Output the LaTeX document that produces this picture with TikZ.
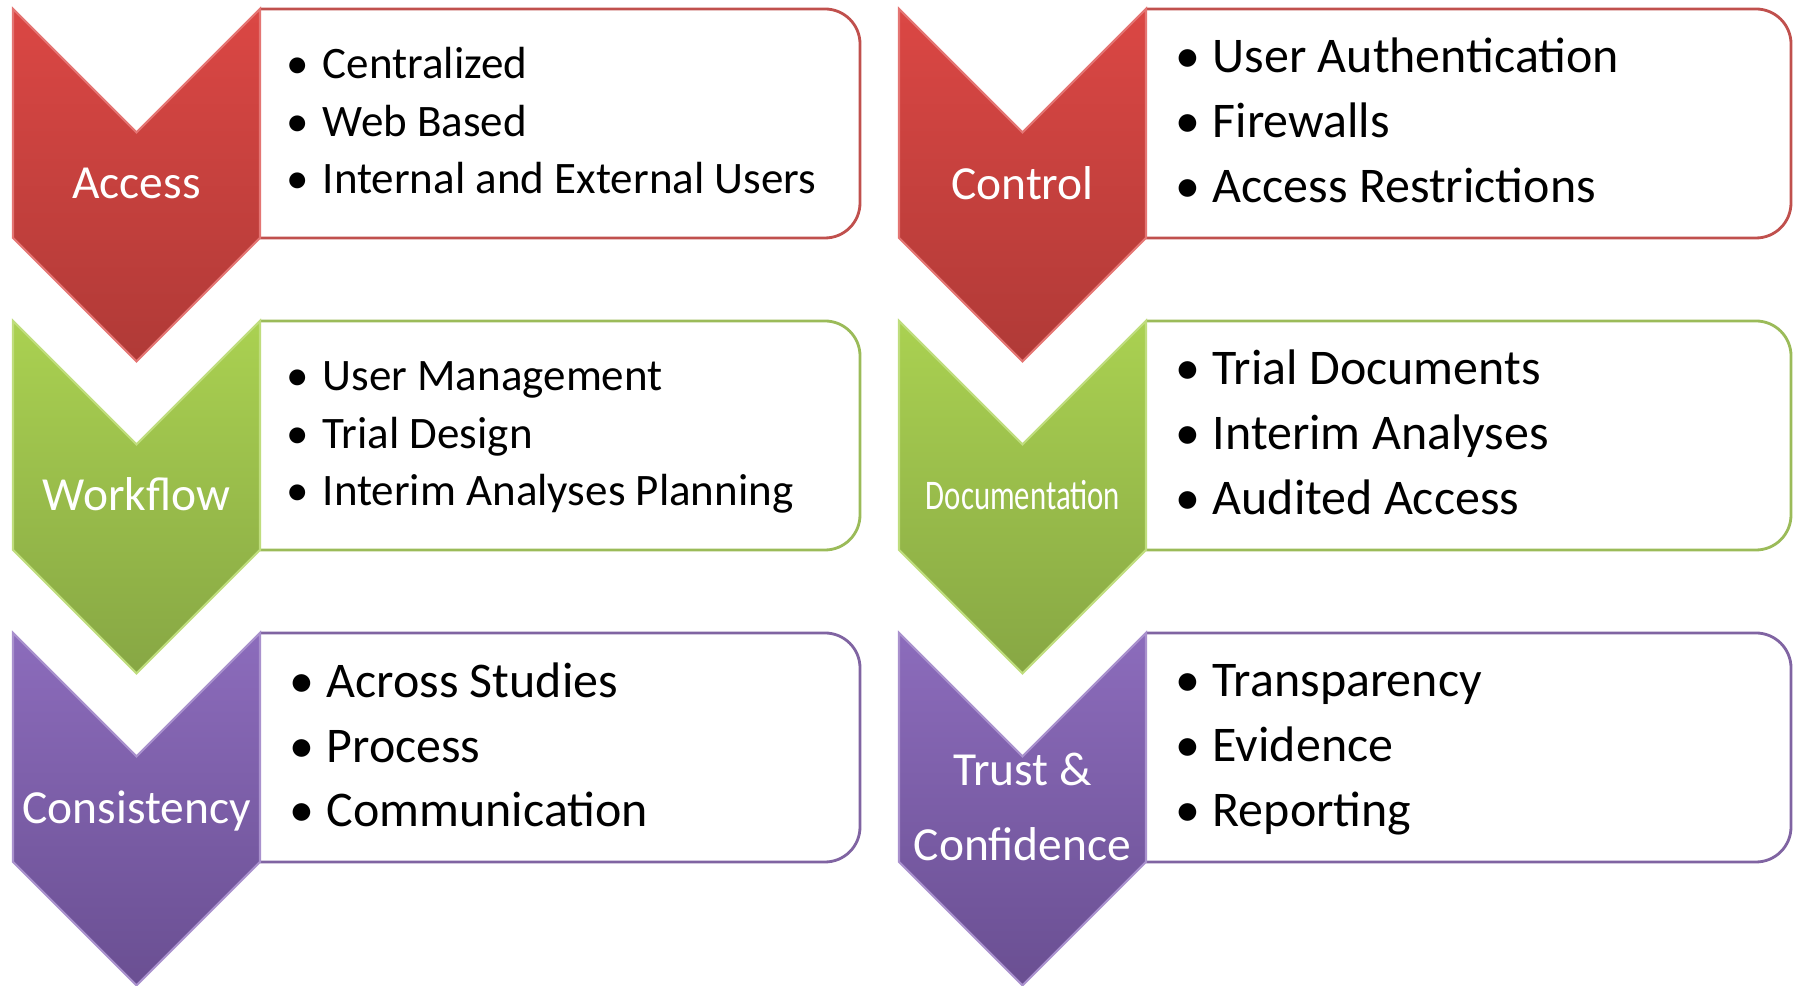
\documentclass[tikz,border=0pt]{standalone}
\usepackage{fontspec}
\setmainfont{Carlito}

\definecolor{redtop}{HTML}{DB4744}
\definecolor{redbot}{HTML}{B03A37}
\definecolor{redline}{HTML}{C0504D}
\definecolor{greentop}{HTML}{AAD151}
\definecolor{greenbot}{HTML}{87A744}
\definecolor{greenline}{HTML}{9BBB59}
\definecolor{purpletop}{HTML}{8C6CBC}
\definecolor{purplebot}{HTML}{6A4F92}
\definecolor{purpleline}{HTML}{8064A2}

\newcommand{\itembul}{\hspace*{-0.25cm}\makebox[0pt]{\textbullet}\hspace*{0.25cm}}

\begin{document}
\begin{tikzpicture}[x=0.01cm,y=0.01cm,
  tag/.style={text=white,inner sep=0pt,anchor=base,font=\fontsize{13.5}{16}\selectfont},
  item/.style={inner sep=0pt,anchor=base west,font=\fontsize{14.2}{17}\selectfont},
  small/.style={item,font=\fontsize{12.8}{15}\selectfont}]
\useasboundingbox (0,0) rectangle (1793,986);

% chevrons and frames
\foreach \x/\xr/\t/\c in {13/860/977/red,13/860/665/green,13/860/353/purple,
                          899/1791/977/red,899/1791/665/green,899/1791/353/purple}{
  \draw[draw=\c line,fill=white,line width=0.8pt] (\x+247,\t) -- (\xr-35,\t)
    arc[start angle=90,end angle=0,radius=0.35cm] -- (\xr,\t-194)
    arc[start angle=0,end angle=-90,radius=0.35cm] -- (\x+247,\t-229);
  \path[top color=\c top,bottom color=\c bot,draw=\c top!75!white,line width=0.6pt]
    (\x,\t) -- (\x+123.5,\t-123.5) -- (\x+247,\t) -- (\x+247,\t-229)
    -- (\x+123.5,\t-352.5) -- (\x,\t-229) -- cycle;
}

% labels
\node[tag] (access) at (136.5,787) {Access};
\node[tag] (workflow) at (136.5,475) {Workflow};
\node[tag] (consist) at (136.5,162) {Consistency};
\node[tag] (control) at (1022.5,786) {Control};
\node[tag,font=\fontsize{12}{14}\selectfont] (docu) at (1023,476) {\scalebox{0.73}[1]{Documentation}};
\node[tag] (trust) at (1022.5,200) {Trust \&};
\node[tag] (conf) at (1022.5,125) {Confidence};

% items
\node[small] (a1) at (322,907) {\itembul Centralized};
\node[small] (a2) at (322,849) {\itembul Web Based};
\node[small] (a3) at (322,792) {\itembul Internal and External Users};
\node[small] (w1) at (322,595) {\itembul User Management};
\node[small] (w2) at (322,537) {\itembul Trial Design};
\node[small] (w3) at (322,480) {\itembul Interim Analyses Planning};
\node[item] (s1) at (326,288) {\itembul Across Studies};
\node[item] (s2) at (326,223) {\itembul Process};
\node[item] (s3) at (326,159) {\itembul Communication};
\node[item] (c1) at (1212,913) {\itembul User Authentication};
\node[item] (c2) at (1212,848) {\itembul Firewalls};
\node[item] (c3) at (1212,783) {\itembul Access Restrictions};
\node[item] (d1) at (1212,601) {\itembul Trial Documents};
\node[item] (d2) at (1212,536) {\itembul Interim Analyses};
\node[item] (d3) at (1212,471) {\itembul Audited Access};
\node[item] (t1) at (1212,289) {\itembul Transparency};
\node[item] (t2) at (1212,224) {\itembul Evidence};
\node[item] (t3) at (1212,159) {\itembul Reporting};
\end{tikzpicture}
\end{document}
